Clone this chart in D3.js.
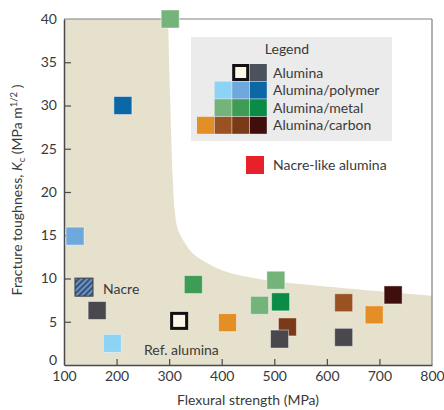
<!DOCTYPE html>
<html><head><meta charset="utf-8">
<script src="https://cdn.jsdelivr.net/npm/d3@7"></script>
<style>body{margin:0;background:#fff}svg{display:block;font-family:Lato,"Open Sans",sans-serif}</style>
</head><body><svg id="c" width="444" height="410"></svg>
<script>
// Data: flexural strength (MPa), fracture toughness (MPa m^1/2), material class
const strength  = [212, 302, 121, 163, 192, 319, 346, 411, 472, 503, 512, 525, 510, 632, 632, 690, 726];
const toughness = [30, 40, 14.9, 6.3, 2.5, 5.1, 9.3, 4.9, 6.9, 9.8, 7.3, 4.4, 3.0, 7.2, 3.2, 5.8, 8.1];
const kinds     = ["poly3","metal1","poly2","alu2","poly1","ref","metal2","carb1","metal1","metal1","metal3","carb3","alu2","carb2","alu2","carb1","carb4"];
const nacre = {s: 138, k: 9.0};
const xTicks = [100,200,300,400,500,600,700,800];
const yTicks = [0,5,10,15,20,25,30,35,40];
// Envelope of the shaded region (strength, toughness)
const envS = [298, 302, 307, 311, 317, 330, 345, 372, 410, 448, 486, 568, 800];
const envK = [40, 30.6, 21.4, 17.6, 15.6, 14.1, 12.9, 11.8, 10.75, 10.2, 9.8, 9.25, 8.0];
const colors = {ref:"#fdf6e6", alu2:"#48484d", aluL:"#4b525c", poly1:"#8dd3f6", poly2:"#6fa8dc", poly3:"#0b67a6",
  metal1:"#74b47a", metal2:"#3f9c54", metal3:"#0a8c46", carb1:"#e38f25", carb2:"#9a5222", carb3:"#7a3a17", carb4:"#3f0e0d"};
const legendRows = [["Alumina",["ref","aluL"]],["Alumina/polymer",["poly1","poly2","poly3"]],["Alumina/metal",["metal1","metal2","metal3"]],["Alumina/carbon",["carb1","carb2","carb3","carb4"]]];

const svg = d3.select("#c");
const x = d3.scaleLinear().domain([100,800]).range([64,432]);
const y = d3.scaleLinear().domain([0,40]).range([365,19]);

// hatch pattern
const defs = svg.append("defs");
const pat = defs.append("pattern").attr("id","hatch").attr("patternUnits","userSpaceOnUse").attr("width",4).attr("height",4).attr("patternTransform","rotate(45)");
pat.append("rect").attr("width",4).attr("height",4).attr("fill","#6a93c4");
pat.append("rect").attr("width",1.6).attr("height",4).attr("fill","#2b4466");

// shaded region
const edge = d3.line().curve(d3.curveCatmullRom.alpha(0.5))(envS.map((s,i)=>[x(s),y(envK[i])]));
svg.append("path")
  .attr("d", `M${x(100)},${y(40)}L${edge.slice(1)}L${x(800)},${y(0)}L${x(100)},${y(0)}Z`)
  .attr("fill","#e6e1cc");

// frame top/right
svg.append("line").attr("x1",x(100)).attr("x2",x(800)).attr("y1",y(40)).attr("y2",y(40)).attr("stroke","#808080").attr("stroke-width",1);
svg.append("line").attr("x1",x(800)).attr("x2",x(800)).attr("y1",y(40)).attr("y2",y(0)).attr("stroke","#808080").attr("stroke-width",1.2);

// axes
const gx = svg.append("g").attr("transform",`translate(0,${y(0)})`)
  .call(d3.axisBottom(x).tickValues(xTicks).tickSize(0).tickPadding(6));
gx.select(".domain").attr("stroke","#4a4a4a").attr("stroke-width",1.5);
gx.selectAll("text").attr("font-size",14).attr("fill","#3a3a3a").attr("font-family","Lato,sans-serif");
gx.selectAll(".tick").filter(d=>d>100&&d<800).append("line").attr("y1",0).attr("y2",-6).attr("stroke","#4a4a4a").attr("stroke-width",1.2);

const gy = svg.append("g").attr("transform",`translate(${x(100)},0)`)
  .call(d3.axisLeft(y).tickValues(yTicks).tickSize(0).tickPadding(7));
gy.select(".domain").attr("stroke","#4a4a4a").attr("stroke-width",1.5);
gy.selectAll("text").attr("font-size",14).attr("fill","#3a3a3a").attr("font-family","Lato,sans-serif");
gy.selectAll(".tick").filter(d=>d>0&&d<40).append("line").attr("x1",0).attr("x2",7).attr("stroke","#4a4a4a").attr("stroke-width",1.2);
gy.selectAll(".tick").filter(d=>d===0).select("text").attr("dy","-0.05em");

// data squares
const S = 18;
const data = strength.map((s,i)=>({s,k:toughness[i],kind:kinds[i]}));
svg.append("g").selectAll("rect").data(data).join("rect")
  .attr("x",d=>x(d.s)-S/2).attr("y",d=>y(d.k)-S/2).attr("width",S).attr("height",S)
  .attr("fill",d=>colors[d.kind])
  .attr("stroke",d=>d.kind==="ref"?"#111":"rgba(255,255,255,0.45)")
  .attr("stroke-width",d=>d.kind==="ref"?3:1)
  .each(function(d){ if(d.kind==="ref"){ d3.select(this).attr("x",x(d.s)-S/2+1.5).attr("y",y(d.k)-S/2+1.5).attr("width",S-3).attr("height",S-3);} });

svg.append("rect").attr("x",x(nacre.s)-S/2).attr("y",y(nacre.k)-S/2).attr("width",S).attr("height",S)
  .attr("fill","url(#hatch)").attr("stroke","#3a3a3a").attr("stroke-width",1);

// point labels
svg.append("text").attr("x",103).attr("y",294).attr("font-size",14).attr("fill","#3a3a3a").text("Nacre");
svg.append("text").attr("x",144).attr("y",355).attr("font-size",14).attr("fill","#3a3a3a").text("Ref. alumina");

// legend
const lg = svg.append("g");
lg.append("rect").attr("x",191).attr("y",37).attr("width",201).attr("height",104).attr("fill","#ebebeb");
lg.append("text").attr("x",287).attr("y",54).attr("text-anchor","middle").attr("font-size",14).attr("fill","#3a3a3a").text("Legend");
const step = 17.6, sw = 17;
legendRows.forEach(([label,ks],r)=>{
  const yy = 64 + r*step;
  ks.forEach((k,j)=>{
    const col = 3 - (ks.length-1-j);
    const xx = 197 + col*step;
    if(k==="ref"){
      lg.append("rect").attr("x",xx+1.5).attr("y",yy+1.5).attr("width",sw-3).attr("height",sw-3).attr("fill",colors[k]).attr("stroke","#111").attr("stroke-width",3);
    } else {
      lg.append("rect").attr("x",xx).attr("y",yy).attr("width",sw).attr("height",sw).attr("fill",colors[k]);
    }
  });
  lg.append("text").attr("x",273).attr("y",yy+13.5).attr("font-size",14).attr("fill","#3a3a3a").text(label);
});
lg.append("rect").attr("x",246).attr("y",156).attr("width",18).attr("height",18).attr("fill","#e8202a");
lg.append("text").attr("x",273).attr("y",170).attr("font-size",14).attr("fill","#3a3a3a").text("Nacre-like alumina");

// axis titles
svg.append("text").attr("x",248).attr("y",405).attr("text-anchor","middle").attr("font-size",14).attr("fill","#3a3a3a").text("Flexural strength (MPa)");
const yt = svg.append("text").attr("transform","translate(22,190) rotate(-90)").attr("text-anchor","middle").attr("font-size",14).attr("fill","#3a3a3a");
yt.append("tspan").text("Fracture toughness, ");
yt.append("tspan").attr("font-style","italic").text("K");
yt.append("tspan").attr("font-size",9.5).attr("dy",3).text("c");
yt.append("tspan").attr("dy",-3).text(" (MPa m");
yt.append("tspan").attr("font-size",9.5).attr("dy",-5).text("1/2");
yt.append("tspan").attr("dy",5).text(" )");
</script></body></html>
